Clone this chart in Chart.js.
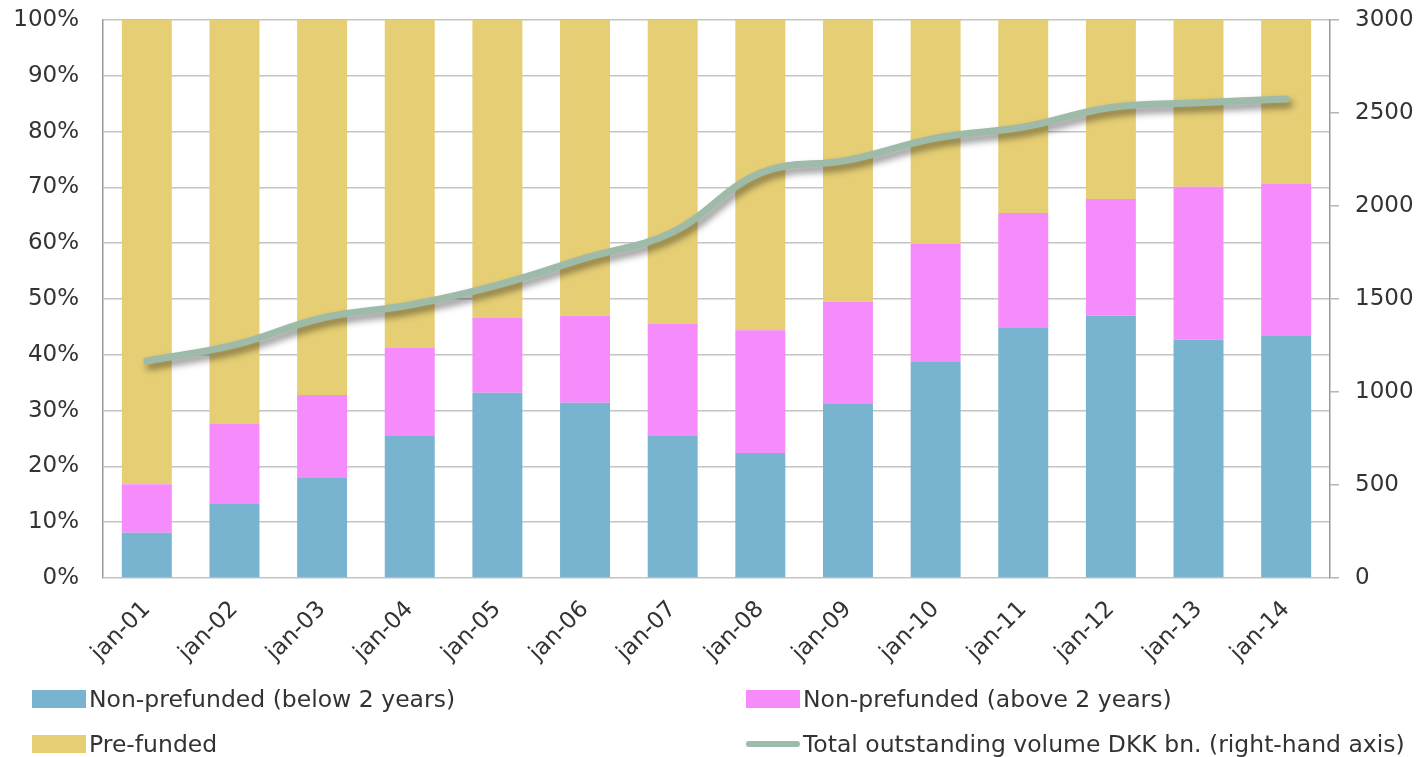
<!DOCTYPE html>
<html>
<head>
<meta charset="utf-8">
<script src="https://cdn.jsdelivr.net/npm/chart.js@4.4.1/dist/chart.umd.min.js"></script>
<style>
    html, body { margin: 0; padding: 0; background: #fff; }
    #wrap { position: relative; width: 1424px; height: 757px; }
    #legend { position: absolute; left: 0; top: 0; width: 1424px; height: 757px; pointer-events: none;
              font-family: "DejaVu Sans", sans-serif; font-size: 23.5px; color: #333; }
    .item { position: absolute; display: flex; align-items: center; white-space: nowrap; }
    .swatch { width: 54px; height: 18px; margin-right: 3px; }
    .swatch.line { height: 6px; border-radius: 3px; }
</style>
</head>
<body>
<div id="wrap">
    <canvas id="chart" width="1424" height="757"></canvas>
    <div id="legend"></div>
</div>
<script>
'use strict';

// data
const months = ['jan-01','jan-02','jan-03','jan-04','jan-05','jan-06','jan-07',
                'jan-08','jan-09','jan-10','jan-11','jan-12','jan-13','jan-14'];
const below2y = [8.1, 13.4, 17.9, 25.6, 33.2, 31.4, 25.6, 22.4, 31.2, 38.7, 44.8, 47.0, 42.7, 43.5];
const above2y = [8.7, 14.2, 14.9, 15.6, 13.4, 15.6, 19.9, 22.0, 18.3, 21.2, 20.6, 20.9, 27.4, 27.1];
const prefunded = [83.2, 72.4, 67.2, 58.8, 53.4, 53.0, 54.5, 55.6, 50.5, 40.1, 34.6, 32.1, 29.9, 29.4];
const totalVolume = [1167, 1253, 1398, 1468, 1575, 1720, 1860, 2177, 2247, 2365, 2425, 2530, 2555, 2575];

const leftTicks = [0, 10, 20, 30, 40, 50, 60, 70, 80, 90, 100];
const rightTicks = [0, 500, 1000, 1500, 2000, 2500, 3000];

const FONT = '"DejaVu Sans", sans-serif';
const TXT = '#333333';

// drop shadow behind the volume line
const lineShadow = {
    id: 'lineShadow',
    beforeDatasetDraw(chart, args) {
        if (chart.data.datasets[args.index].type !== 'line') return;
        let ctx = chart.ctx;
        ctx.save();
        ctx.shadowColor = 'rgba(0,0,0,0.45)';
        ctx.shadowBlur = 7;
        ctx.shadowOffsetX = 3;
        ctx.shadowOffsetY = 5;
    },
    afterDatasetDraw(chart, args) {
        if (chart.data.datasets[args.index].type !== 'line') return;
        chart.ctx.restore();
    }
};

// keep the tick padding from pushing the plot down
function fixVertical(width) {
    return function(s) {
        s.width = width;
        s.paddingTop = 0;
        s.paddingBottom = 0;
    };
}

let chart = new Chart(document.getElementById('chart'), {
    data: {
        labels: months,
        datasets: [
            { type: 'line', label: 'Total outstanding volume DKK bn. (right-hand axis)', data: totalVolume,
              yAxisID: 'y1', borderColor: '#9dbba8', borderWidth: 7, pointRadius: 0,
              tension: 0.4, borderCapStyle: 'round', order: 0, legendCol: 1, legendRow: 1 },
            { type: 'bar', label: 'Non-prefunded (below 2 years)', data: below2y,
              backgroundColor: '#78b3cf', order: 1, legendCol: 0, legendRow: 0 },
            { type: 'bar', label: 'Non-prefunded (above 2 years)', data: above2y,
              backgroundColor: '#f68bfb', order: 1, legendCol: 1, legendRow: 0 },
            { type: 'bar', label: 'Pre-funded', data: prefunded,
              backgroundColor: '#e5ce74', order: 1, legendCol: 0, legendRow: 1 }
        ]
    },
    options: {
        responsive: false,
        animation: false,
        layout: { padding: { top: 20, left: 0, right: 0, bottom: 0 } },
        datasets: { bar: { barPercentage: 0.57, categoryPercentage: 1 } },
        plugins: { legend: { display: false }, tooltip: { enabled: false } },
        scales: {
            x: {
                stacked: true,
                grid: { display: false },
                border: { display: false },
                ticks: { color: TXT, font: { family: FONT, size: 23 }, minRotation: 45, maxRotation: 45, padding: 10 },
                afterFit(s) { s.height = 179; }
            },
            y: {
                stacked: true, min: 0, max: 100,
                afterBuildTicks(s) { s.ticks = leftTicks.map(v => ({ value: v })); },
                ticks: { color: TXT, font: { family: FONT, size: 23 }, padding: 24, callback: v => v + '%' },
                grid: { color: '#c4c4c4', lineWidth: 1.5, drawTicks: false },
                border: { color: '#9a9a9a', width: 1.5 },
                afterFit: fixVertical(103)
            },
            y1: {
                position: 'right', min: 0, max: 3000,
                afterBuildTicks(s) { s.ticks = rightTicks.map(v => ({ value: v })); },
                ticks: { color: TXT, font: { family: FONT, size: 23 }, padding: 16, callback: v => String(v) },
                grid: { drawOnChartArea: false, color: '#b5b5b5', lineWidth: 1.5, tickLength: 9 },
                border: { color: '#9a9a9a', width: 1.5 },
                afterFit: fixVertical(94)
            }
        }
    },
    plugins: [lineShadow]
});

// legend in two columns below the chart
(function buildLegend() {
    let box = document.getElementById('legend');
    let colX = [32, 746];
    let rowY = [699, 744];
    chart.data.datasets.forEach(function(ds) {
        let item = document.createElement('div');
        item.className = 'item';
        item.style.left = colX[ds.legendCol] + 'px';
        item.style.top = (rowY[ds.legendRow] - 15) + 'px';
        item.style.height = '30px';
        let sw = document.createElement('span');
        sw.className = 'swatch' + (ds.type === 'line' ? ' line' : '');
        sw.style.background = ds.type === 'line' ? ds.borderColor : ds.backgroundColor;
        let label = document.createElement('span');
        label.textContent = ds.label;
        item.appendChild(sw);
        item.appendChild(label);
        box.appendChild(item);
    });
})();
</script>
</body>
</html>
